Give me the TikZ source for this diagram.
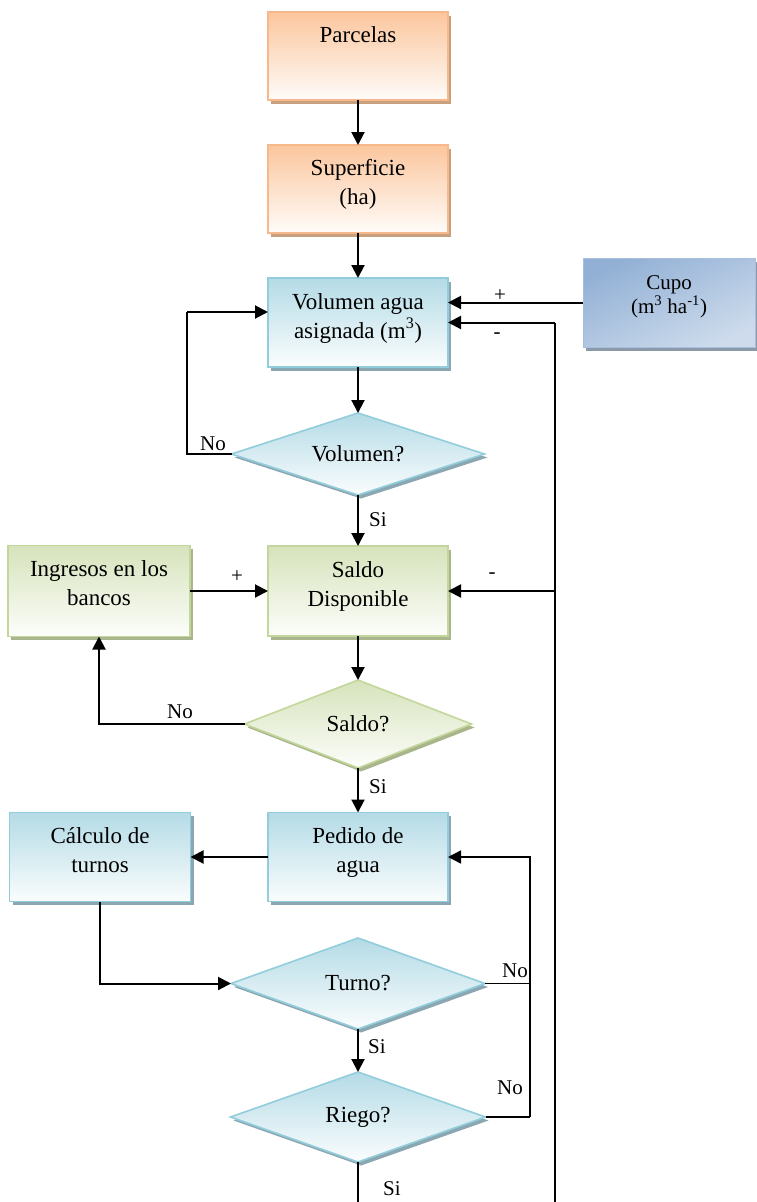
\documentclass[tikz,border=0pt]{standalone}
\usepackage{fontspec}
\setmainfont{Liberation Serif}
\usetikzlibrary{shapes.geometric,arrows.meta,shadows,calc}
\definecolor{oBorder}{HTML}{F7B98C}
\definecolor{oTop}{HTML}{FBC69D}
\definecolor{oShadow}{HTML}{C9A07E}
\definecolor{bBorder}{HTML}{92CDDC}
\definecolor{bTop}{HTML}{B4DBE6}
\definecolor{bShadow}{HTML}{8BA7B2}
\definecolor{gBorder}{HTML}{C3D69B}
\definecolor{gTop}{HTML}{D6E3BB}
\definecolor{gShadow}{HTML}{A9B58A}
\definecolor{cDark}{HTML}{92B0D5}
\definecolor{cLight}{HTML}{DCE6F2}
\definecolor{cShadow}{HTML}{8C99A8}
\newcommand{\tbox}[4]{\parbox[c][#2][t]{#1}{\centering\rule{0pt}{#3}#4}}
\tikzset{
  bigfont/.style={font=\fontsize{23}{29}\selectfont},
  basebox/.style={bigfont, inner sep=0pt, outer sep=0pt, line width=1.6pt},
  obox/.style={basebox, draw=oBorder, top color=oTop, bottom color=oTop!6,
    drop shadow={shadow xshift=3pt, shadow yshift=-3.5pt, fill=oShadow, opacity=1}},
  bbox/.style={basebox, draw=bBorder, top color=bTop, bottom color=bTop!6,
    drop shadow={shadow xshift=3pt, shadow yshift=-3.5pt, fill=bShadow, opacity=1}},
  gbox/.style={basebox, draw=gBorder, top color=gTop, bottom color=gTop!6,
    drop shadow={shadow xshift=3pt, shadow yshift=-3.5pt, fill=gShadow, opacity=1}},
  cbox/.style={inner sep=0pt, outer sep=0pt, font=\fontsize{21}{24}\selectfont,
    draw=cDark!80!white, line width=0.6pt,
    top color=cDark, middle color=cLight!55!cDark, bottom color=cLight!80!cDark, shading angle=25,
    drop shadow={shadow xshift=3pt, shadow yshift=-3.5pt, fill=cShadow, opacity=1}},
  bdia/.style={diamond, bbox},
  gdia/.style={diamond, gbox},
  lbl/.style={font=\fontsize{21}{24}\selectfont, inner sep=0pt},
  ln/.style={line width=2pt},
  lnthin/.style={line width=1.4pt},
  arr/.style={line width=2pt, -{Triangle[length=13pt,width=13pt]}},
  arrthin/.style={line width=1.4pt, -{Triangle[length=13pt,width=13pt]}},
}
\begin{document}
\begin{tikzpicture}[x=1pt,y=-1pt]
\useasboundingbox (0,0) rectangle (756,1202);

% boxes
\node[obox] (parc) at (358,56) {\tbox{180pt}{88pt}{30pt}{Parcelas}};
\node[obox] (sup) at (358,189) {\tbox{180pt}{88pt}{30pt}{Superficie\\(ha)}};
\node[bbox] (vol) at (358,322.5) {\tbox{180pt}{89pt}{31pt}{Volumen agua\\asignada (m\textsuperscript{3})}};
\node[cbox] (cupo) at (669,302.5) {\tbox{172pt}{89pt}{31pt}{Cupo\\(m\textsuperscript{3} ha\textsuperscript{-1})}};
\node[bdia, aspect=3.09, minimum width=253pt, minimum height=82pt] (volq) at (358,454) {Volumen?};
\node[gbox] (saldo) at (358,591) {\tbox{180pt}{90pt}{31pt}{Saldo\\Disponible}};
\node[gbox] (ingr) at (99,591) {\tbox{182pt}{91pt}{31pt}{Ingresos en los\\bancos}};
\node[gdia, aspect=2.58, minimum width=227pt, minimum height=88pt] (saldoq) at (358,724) {Saldo?};
\node[bbox] (pedido) at (358,857) {\tbox{180pt}{89pt}{31pt}{Pedido de\\agua}};
\node[bbox] (calc) at (100,857) {\tbox{181pt}{89pt}{31pt}{Cálculo de\\turnos}};
\node[bdia, aspect=2.79, minimum width=254pt, minimum height=91pt] (turno) at (358,983.5) {Turno?};
\node[bdia, aspect=2.83, minimum width=255pt, minimum height=90pt] (riego) at (358,1117) {Riego?};

% coordinates
\coordinate (c1) at (187,312);
\coordinate (fb) at (555,1202);
\coordinate (r1) at (530,1117);
\coordinate (rb) at (358,1202);

% connectors
\draw[arr] (parc) -- (sup);
\draw[arr] (sup) -- (vol);
\draw[arr] (vol) -- (volq);
\draw[ln] (volq.west) -| (c1);
\draw[arr] (c1) -- (c1 -| vol.west);
\draw[arr] (cupo.west) -- (cupo.west -| vol.east);
\draw[ln] (fb) -- (fb |- vol.east);
\draw[arr] (fb |- vol.east) -- (vol.east);
\draw[arr] (fb |- saldo.east) -- (saldo.east);
\draw[arr] (volq) -- (saldo);
\draw[arr] (ingr.east) -- (ingr.east -| saldo.west);
\draw[arr] (saldo) -- (saldoq);
\draw[arr] (saldoq.west) -| (ingr.south);
\draw[arr] (saldoq) -- (pedido);
\draw[arr] (pedido.west) -- (calc.east);
\draw[arr] (calc.south) |- (turno.west);
\draw[arr] (turno) -- (riego);
\draw[lnthin] (turno.east) -- (turno.east -| r1);
\draw[lnthin] (riego.east) -- (r1);
\draw[arrthin] (r1) |- (pedido.east);
\draw[ln] (riego.south) -- (rb);

% labels
\node[lbl] (l1) at (213,444) {No};
\node[lbl] (l2) at (500,296) {+};
\node[lbl] (l3) at (497,336) {-};
\node[lbl] (l4) at (378,520) {Si};
\node[lbl] (l5) at (237,577) {+};
\node[lbl] (l6) at (492,576) {-};
\node[lbl] (l7) at (180,712) {No};
\node[lbl] (l8) at (378,787) {Si};
\node[lbl] (l9) at (515,971) {No};
\node[lbl] (l10) at (377,1047) {Si};
\node[lbl] (l11) at (510,1088) {No};
\node[lbl] (l12) at (392,1189) {Si};
\end{tikzpicture}
\end{document}
